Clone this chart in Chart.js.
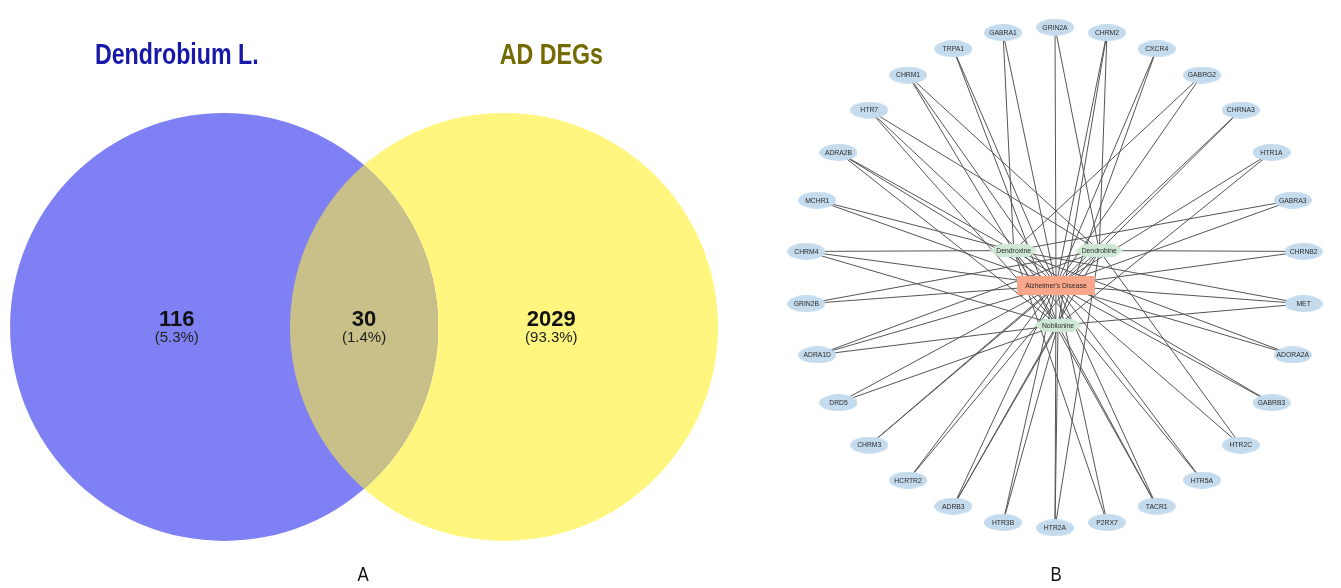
<!DOCTYPE html>
<html>
<head>
<meta charset="utf-8">
<script src="https://cdn.jsdelivr.net/npm/chart.js@4.4.0/dist/chart.umd.min.js"></script>
<style>
  body { margin: 0; background: #fff; width: 1341px; height: 588px; position: relative; overflow: hidden; }
  #vennBox { position: absolute; left: 0; top: 0; width: 730px; height: 588px; }
  #netBox { position: absolute; left: 770px; top: 0; width: 571px; height: 588px; }
  .panel { position: absolute; top: 562px; width: 40px; margin-left: -20px; text-align: center;
           font: 21px "Liberation Sans", Arial, sans-serif; color: #111; transform: scaleX(0.8); }
</style>
</head>
<body>
<div id="vennBox"><canvas id="venn" width="730" height="588"></canvas></div>
<div id="netBox"><canvas id="network" width="571" height="588"></canvas></div>
<div class="panel" id="panelA" style="left:363px"></div>
<div class="panel" id="panelB" style="left:1056px"></div>
<script>
// ---- Venn data ----
const setNames = ['Dendrobium L.', 'AD DEGs'];
const setColors = ['#7f80f4', '#fff680'];
const titleColors = ['#1818a8', '#736b00'];
const overlapColor = '#c8c088';
const vennCounts = [116, 30, 2029]; // Dendrobium only, shared, AD only
const panelLabels = ['A', 'B'];

// ---- Network data ----
const genes = ['GRIN2A', 'CHRM2', 'CXCR4', 'GABRG2', 'CHRNA3', 'HTR1A', 'GABRA3', 'CHRNB2',
  'MET', 'ADORA2A', 'GABRB3', 'HTR2C', 'HTR5A', 'TACR1', 'P2RX7', 'HTR2A', 'HTR3B', 'ADRB3',
  'HCRTR2', 'CHRM3', 'DRD5', 'ADRA1D', 'GRIN2B', 'CHRM4', 'MCHR1', 'ADRA2B', 'HTR7', 'CHRM1',
  'TRPA1', 'GABRA1'];
const compounds = ['Dendroxine', 'Dendrobine', 'Nobilonine'];
const disease = "Alzheimer's Disease";
const dendroxineTargets = ['GABRG2', 'GABRA3', 'MET', 'ADORA2A', 'GABRB3', 'HTR5A', 'TACR1',
  'P2RX7', 'CHRM4', 'MCHR1', 'ADRA2B', 'GABRA1'];
const dendrobineTargets = ['GRIN2A', 'CHRM2', 'CHRNA3', 'CHRNB2', 'HTR2C', 'HTR2A', 'ADRB3',
  'HCRTR2', 'CHRM3', 'ADRA1D', 'GRIN2B', 'HTR7', 'CHRM1'];
const nobilonineTargets = ['CHRM2', 'CXCR4', 'HTR1A', 'MET', 'TACR1', 'HTR2A', 'HTR3B', 'ADRB3',
  'DRD5', 'ADRA1D', 'CHRM4', 'ADRA2B', 'HTR7', 'CHRM1', 'TRPA1'];

document.getElementById('panelA').textContent = panelLabels[0];
document.getElementById('panelB').textContent = panelLabels[1];

// ================= A: Venn diagram =================
const total = vennCounts.reduce((a, b) => a + b, 0);
const pct = v => '(' + (v / total * 100).toFixed(1) + '%)';
const circleOffset = 0.654; // centre distance from middle, in radius units
const regionX = [-0.875, 0, 0.875];

function radiusFromScale(c) {
  const s = c.chart.scales.x;
  return s.getPixelForValue(1) - s.getPixelForValue(0);
}

// condensed text: squeeze a normal face horizontally
function narrowText(ctx, text, x, y, squeeze) {
  ctx.save();
  ctx.translate(x, y);
  ctx.scale(squeeze, 1);
  ctx.fillText(text, 0, 0);
  ctx.restore();
}

const vennText = {
  id: 'vennText',
  afterDatasetsDraw(chart) {
    const ctx = chart.ctx;
    const sx = chart.scales.x, sy = chart.scales.y;
    const a = chart.getDatasetMeta(0).data[0];
    const b = chart.getDatasetMeta(1).data[0];
    // lens where both sets intersect
    ctx.save();
    ctx.beginPath();
    ctx.arc(a.x, a.y, a.options.radius, 0, Math.PI * 2);
    ctx.clip();
    ctx.beginPath();
    ctx.arc(b.x, b.y, b.options.radius, 0, Math.PI * 2);
    ctx.fillStyle = overlapColor;
    ctx.fill();
    ctx.restore();

    ctx.save();
    ctx.textAlign = 'center';
    ctx.textBaseline = 'middle';
    ctx.font = 'bold 29px "Liberation Sans", Arial, sans-serif';
    setNames.forEach((name, i) => {
      ctx.fillStyle = titleColors[i];
      narrowText(ctx, name, sx.getPixelForValue(i === 0 ? regionX[0] : regionX[2]), sy.getPixelForValue(1.265), 0.8);
    });
    vennCounts.forEach((v, i) => {
      const x = sx.getPixelForValue(regionX[i]);
      ctx.fillStyle = '#111';
      ctx.font = 'bold 22px "Liberation Sans", Arial, sans-serif';
      ctx.fillText(String(v), x, sy.getPixelForValue(0.033));
      ctx.fillStyle = '#222';
      ctx.font = '15px "Liberation Sans", Arial, sans-serif';
      ctx.fillText(pct(v), x, sy.getPixelForValue(-0.05));
    });
    ctx.restore();
  }
};

new Chart(document.getElementById('venn'), {
  type: 'scatter',
  data: {
    datasets: setNames.map((name, i) => ({
      label: name,
      data: [{ x: i === 0 ? -circleOffset : circleOffset, y: 0 }],
      backgroundColor: setColors[i],
      borderWidth: 0,
      pointRadius: radiusFromScale
    }))
  },
  options: {
    responsive: false,
    animation: false,
    events: [],
    layout: { padding: 0 },
    plugins: { legend: { display: false }, tooltip: { enabled: false } },
    scales: {
      x: { type: 'linear', display: false, min: -1.701, max: 1.71 },
      y: { type: 'linear', display: false, min: -1.22, max: 1.528 }
    }
  },
  plugins: [vennText]
});

// ================= B: compound-target-disease network =================
function makeEllipse(w, h, color) {
  const c = document.createElement('canvas');
  c.width = w; c.height = h;
  const g = c.getContext('2d');
  g.fillStyle = color;
  g.beginPath();
  g.ellipse(w / 2, h / 2, w / 2, h / 2, 0, 0, Math.PI * 2);
  g.fill();
  return c;
}
function makeHexagon(w, h, color) {
  const c = document.createElement('canvas');
  c.width = w; c.height = h;
  const g = c.getContext('2d');
  g.fillStyle = color;
  g.beginPath();
  g.moveTo(0, h / 2);
  g.lineTo(h * 0.7, 0);
  g.lineTo(w - h * 0.7, 0);
  g.lineTo(w, h / 2);
  g.lineTo(w - h * 0.7, h);
  g.lineTo(h * 0.7, h);
  g.closePath();
  g.fill();
  return c;
}
function makeRect(w, h, color) {
  const c = document.createElement('canvas');
  c.width = w; c.height = h;
  const g = c.getContext('2d');
  g.fillStyle = color;
  g.fillRect(0, 0, w, h);
  return c;
}

const nodeStyles = {
  gene: makeEllipse(38, 17, '#c4dbee'),
  compound: makeHexagon(48, 13, '#cfe8d3'),
  disease: makeRect(78, 19, '#f9a68b')
};

// circular layout for targets, hub nodes placed inside the ring
const hubPos = {
  Dendroxine: { x: -0.165, y: 0.108 },
  Dendrobine: { x: 0.177, y: 0.108 },
  Nobilonine: { x: 0.012, y: -0.19 }
};
hubPos[disease] = { x: 0.004, y: -0.031 };

const pos = {};
genes.forEach((g, i) => {
  const a = i * 2 * Math.PI / genes.length;
  pos[g] = { x: Math.sin(a), y: Math.cos(a) };
});
Object.assign(pos, hubPos);

const links = [];
genes.forEach(g => links.push([g, disease]));
[dendroxineTargets, dendrobineTargets, nobilonineTargets].forEach((list, i) => {
  list.forEach(g => links.push([g, compounds[i]]));
});

const edgeSets = links.map(([s, t]) => ({
  data: [pos[s], pos[t]],
  showLine: true,
  pointRadius: 0,
  borderColor: '#555',
  borderWidth: 1,
  order: 2
}));

const nodes = genes.map(g => ({ x: pos[g].x, y: pos[g].y, label: g, kind: 'gene' }))
  .concat(compounds.map(c => ({ x: pos[c].x, y: pos[c].y, label: c, kind: 'compound' })))
  .concat([{ x: pos[disease].x, y: pos[disease].y, label: disease, kind: 'disease' }]);

const nodeLabels = {
  id: 'nodeLabels',
  afterDatasetsDraw(chart) {
    const meta = chart.getDatasetMeta(chart.data.datasets.length - 1);
    const ctx = chart.ctx;
    ctx.save();
    ctx.font = '6.8px "Liberation Sans", Arial, sans-serif';
    ctx.fillStyle = '#2a2a2a';
    ctx.textAlign = 'center';
    ctx.textBaseline = 'middle';
    meta.data.forEach((el, i) => {
      ctx.fillText(nodes[i].label, el.x, el.y + 0.5);
    });
    ctx.restore();
  }
};

new Chart(document.getElementById('network'), {
  type: 'scatter',
  data: {
    datasets: edgeSets.concat([{
      label: 'nodes',
      data: nodes,
      pointStyle: c => nodeStyles[c.raw.kind],
      pointRadius: 10,
      order: 0
    }])
  },
  options: {
    responsive: false,
    animation: false,
    events: [],
    layout: { padding: 0 },
    plugins: { legend: { display: false }, tooltip: { enabled: false } },
    scales: {
      x: { type: 'linear', display: false, min: -1.096, max: 1.1 },
      y: { type: 'linear', display: false, min: -1.196, max: 1.065 }
    }
  },
  plugins: [nodeLabels]
});
</script>
</body>
</html>
